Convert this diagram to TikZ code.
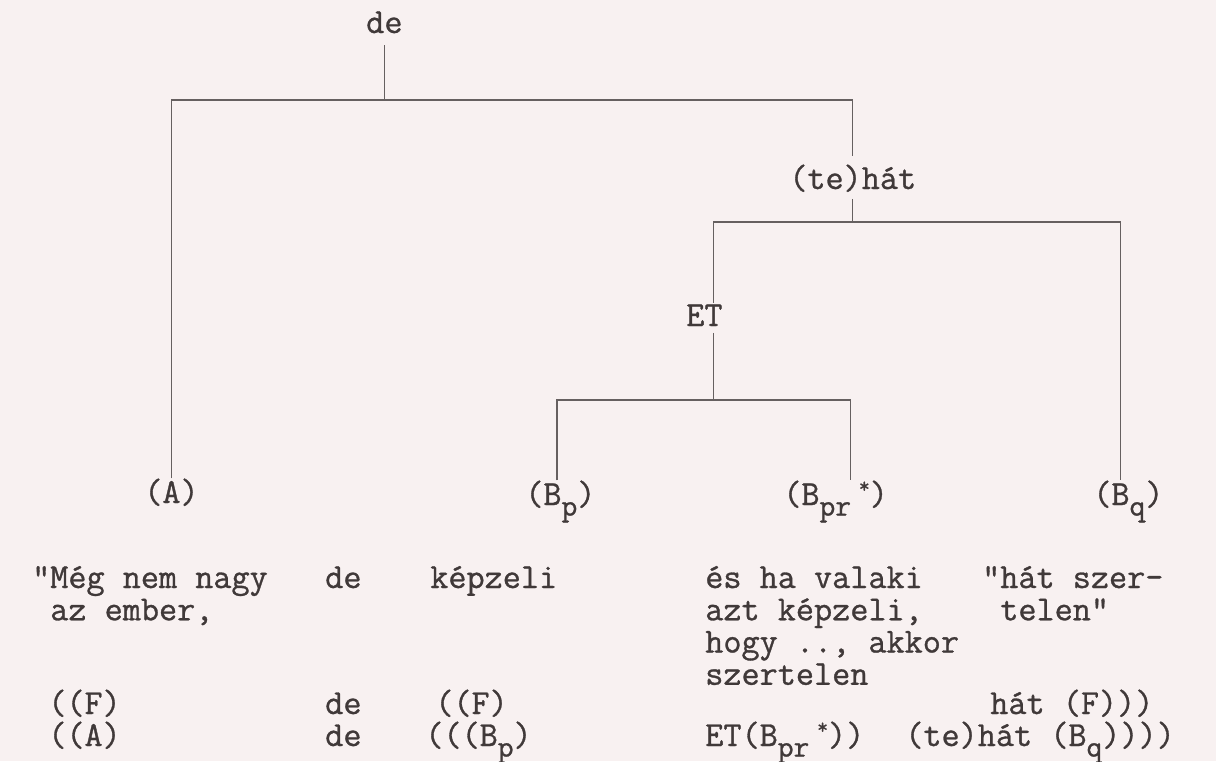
\documentclass[tikz,border=0pt]{standalone}
\usepackage{fontspec}
\setmonofont{Latin Modern Mono}[FakeBold=0.9]
\definecolor{paper}{HTML}{F8F1F1}
\definecolor{ink}{HTML}{403939}
\definecolor{wire}{HTML}{666060}
\newcommand\lsub[1]{\raisebox{-0.30em}{\fontsize{23}{23}\selectfont #1}}
\newcommand\lsup[1]{\hspace{0.22em}\raisebox{0.35em}{\fontsize{16}{16}\selectfont #1}}
\newcommand\lines[1]{\begin{tabular}[t]{@{}l@{}}#1\end{tabular}}
\tikzset{
  lbl/.style={font=\ttfamily\fontsize{26.4}{24.2}\selectfont, text=ink, inner sep=0pt, anchor=base west},
  edge/.style={draw=wire, line width=1.1pt}
}
\begin{document}
\begin{tikzpicture}[x=0.75pt,y=-0.75pt]
\fill[paper] (0,0) rectangle (1216,761);
\useasboundingbox (0,0) rectangle (1216,761);

% tree labels
\node[lbl] (de) at (366,33) {de};
\node[lbl] (tehat) at (789,189) {(te)hát};
\node[lbl] (ET) at (686,326) {ET};
\node[lbl] (A) at (144,503) {(A)};
\node[lbl] (Bp) at (525,505) {(B\lsub{p})};
\node[lbl] (Bpr) at (783,505) {(B\lsub{pr}\lsup{*})};
\node[lbl] (Bq) at (1093,505) {(B\lsub{q})};

\coordinate (ETn) at ([xshift=6.9pt]ET.north);
\coordinate (ETs) at ([xshift=6.9pt]ET.south);
\coordinate (Bpn) at ([xshift=24pt]Bp.north west);
\coordinate (Bprn) at ([xshift=50.5pt]Bpr.north west);
\coordinate (Bqn) at ([xshift=20.8pt]Bq.north west);
\coordinate (t1) at (0,100);
\coordinate (t2) at (0,222);
\coordinate (t3) at (0,400);

% connectors
\draw[edge, shorten <=9pt] (de.south) -- (de.south |- t1);
\draw[edge, shorten >=6pt] (A.north) -- (A.north |- t1) -| (tehat.north);
\draw[edge, shorten <=5pt] (tehat.south) -- (tehat.south |- t2);
\draw[edge, shorten <=1pt] (ETn) -- (ETn |- t2) -| (Bqn);
\draw[edge, shorten <=5pt] (ETs) -- (ETs |- t3);
\draw[edge] (Bpn) -- (Bpn |- t3) -| (Bprn);

% example sentence
\node[lbl] (s1) at (50,588) {\lines{\llap{"}Még nem nagy\\az ember,}};
\node[lbl] (s2) at (325,588) {de};
\node[lbl] (s3) at (430,588) {képzeli};
\node[lbl] (s4) at (705,588) {\lines{és ha valaki\\azt képzeli,\\hogy .., akkor\\szertelen}};
\node[lbl] (s5) at (1000,588) {\lines{\llap{"}hát szer-\\telen"}};

% formulas
\node[lbl] (f1) at (48,714) {((F)};
\node[lbl] (f2) at (325,714) {de};
\node[lbl] (f3) at (435,714) {((F)};
\node[lbl] (f4) at (990,714) {hát (F)))};

\node[lbl] (g1) at (48,746) {((A)};
\node[lbl] (g2) at (325,746) {de};
\node[lbl] (g3) at (425,746) {(((B\lsub{p})};
\node[lbl] (g4) at (705,746) {ET(B\lsub{pr}\lsup{*}))};
\node[lbl] (g5) at (905,746) {(te)hát (B\lsub{q}))))};
\end{tikzpicture}
\end{document}
